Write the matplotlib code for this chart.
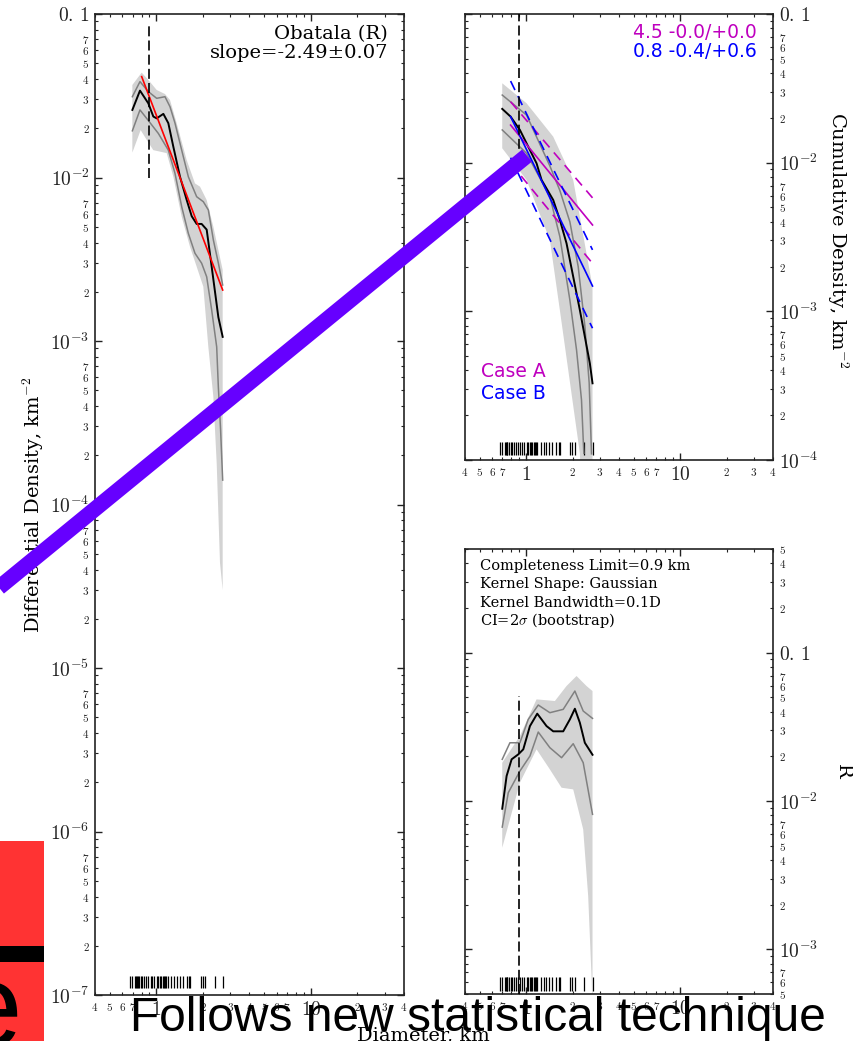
import numpy as np
import matplotlib
matplotlib.use("Agg")
import matplotlib.pyplot as plt
from matplotlib import ticker
from matplotlib.lines import Line2D
from matplotlib.patches import Rectangle

plt.rcParams['mathtext.fontset'] = 'cm'
plt.rcParams['font.family'] = ['DejaVu Serif']

# ---------------- data ----------------
craters = [0.674, 0.697, 0.723, 0.733, 0.744, 0.755, 0.77, 0.79, 0.81, 0.83, 0.856,
           0.884, 0.915, 0.938, 0.962, 1.01, 1.03, 1.05, 1.07, 1.096, 1.116, 1.14,
           1.16, 1.18, 1.25, 1.297, 1.35, 1.41, 1.475, 1.57, 1.62, 1.65, 1.93,
           1.99, 2.06, 2.38, 2.71]
completeness = 0.9

# differential (left panel)
diff_x = [0.698, 0.782, 0.886, 0.954, 1.003, 1.108, 1.193, 1.286, 1.42, 1.568,
          1.69, 1.82, 1.96, 2.113, 2.22, 2.392, 2.514, 2.682]
diff_y = [0.0259, 0.0340, 0.0284, 0.0236, 0.0230, 0.0245, 0.0215, 0.0154, 0.0101,
          0.0073, 0.0058, 0.0052, 0.0052, 0.0048, 0.0034, 0.0020, 0.0014, 0.00106]
diff_hi_x = [0.698, 0.782, 0.886, 1.003, 1.135, 1.223, 1.318, 1.456, 1.608, 1.82,
             2.01, 2.166, 2.334, 2.514, 2.682]
diff_hi_y = [0.0312, 0.0386, 0.0335, 0.0305, 0.0312, 0.0271, 0.0215, 0.0147, 0.0101,
             0.00763, 0.00711, 0.00633, 0.00415, 0.0030, 0.0022]
diff_lo_x = [0.698, 0.782, 0.886, 1.028, 1.193, 1.318, 1.456, 1.608, 1.775, 1.96,
             2.113, 2.276, 2.453, 2.514, 2.60, 2.682]
diff_lo_y = [0.0193, 0.0259, 0.0223, 0.0186, 0.0147, 0.0106, 0.00663, 0.00455,
             0.00344, 0.00299, 0.00247, 0.00155, 0.00092, 0.000525, 0.000286, 0.000141]
diff_band_top_x = [0.698, 0.802, 0.886, 1.003, 1.135, 1.223, 1.351, 1.568, 1.775,
                   1.913, 2.113, 2.334, 2.682]
diff_band_top_y = [0.0368, 0.0438, 0.0395, 0.0343, 0.0324, 0.0298, 0.0215, 0.0128,
                   0.0092, 0.00879, 0.00728, 0.0050, 0.00272]
diff_band_bot_x = [0.698, 0.79, 0.864, 0.954, 1.164, 1.286, 1.456, 1.648, 1.82, 2.01,
                   2.166, 2.334, 2.453, 2.577, 2.682]
diff_band_bot_y = [0.0142, 0.0195, 0.0170, 0.0147, 0.0141, 0.0101, 0.00576, 0.00377,
                   0.00285, 0.00215, 0.00092, 0.000457, 0.000179, 4.4e-5, 3.0e-5]
fit_x = [0.802, 2.682]
fit_y = [0.0414, 0.00205]

# cumulative (top-right panel)
cum_x = [0.698, 0.791, 0.909, 1.166, 1.257, 1.496, 1.652, 1.825, 2.017, 2.228,
         2.4, 2.587, 2.692]
cum_y = [0.0230, 0.0204, 0.0166, 0.0099, 0.00765, 0.00561, 0.00412, 0.00287,
         0.00171, 0.00102, 0.000676, 0.000447, 0.000328]
cum_hi_x = [0.698, 1.004, 1.423, 1.652, 1.919, 2.173, 2.4, 2.561, 2.652]
cum_hi_y = [0.0285, 0.0209, 0.0095, 0.0065, 0.0040, 0.0020, 0.0008, 0.00033, 0.00011]
cum_lo_x = [0.698, 1.004, 1.423, 1.652, 1.919, 2.12, 2.283, 2.364]
cum_lo_y = [0.0166, 0.01156, 0.00591, 0.00318, 0.00119, 0.00055, 0.000254, 0.000111]
cum_band_top_x = [0.698, 1.004, 1.496, 2.017, 2.692, 2.692]
cum_band_top_y = [0.0342, 0.0251, 0.01496, 0.00765, 0.001466, 5e-5]
cum_band_bot_x = [0.698, 1.004, 1.423, 1.652, 2.228, 2.30]
cum_band_bot_y = [0.0125, 0.00765, 0.00302, 0.00102, 0.000111, 5e-5]

fitA_x = [0.791, 2.692]
fitA_y = [0.0179, 0.00381]
fitA_hi = [0.0257, 0.0058]
fitA_lo = [0.00993, 0.0021]
fitB_x = [0.791, 2.692]
fitB_y = [0.0204, 0.00148]
fitB_hi = [0.0354, 0.00259]
fitB_lo = [0.0108, 0.00077]

# R plot (bottom-right panel)
r_x = [0.698, 0.745, 0.803, 0.887, 0.956, 1.056, 1.178, 1.354, 1.496, 1.737, 1.919,
       2.068, 2.228, 2.4, 2.692]
r_y = [0.00887, 0.01474, 0.0191, 0.02063, 0.0223, 0.0320, 0.0388, 0.0320, 0.0295,
       0.0295, 0.0355, 0.0419, 0.0337, 0.0247, 0.0205]
r_hi_x = [0.698, 0.783, 0.909, 1.03, 1.196, 1.423, 1.737, 2.068, 2.342, 2.692]
r_hi_y = [0.0191, 0.0247, 0.0247, 0.0355, 0.04437, 0.03939, 0.04149, 0.05513, 0.04043,
          0.03607]
r_lo_x = [0.698, 0.764, 0.909, 1.056, 1.196, 1.423, 1.695, 2.017, 2.342, 2.692]
r_lo_y = [0.00667, 0.01138, 0.01592, 0.0201, 0.02917, 0.02288, 0.01959, 0.02434,
          0.01813, 0.00813]
r_band_top_x = [0.698, 0.909, 1.166, 1.534, 1.825, 2.12, 2.461, 2.692]
r_band_top_y = [0.0181, 0.02742, 0.04844, 0.04721, 0.05958, 0.06962, 0.0596, 0.0551]
r_band_bot_x = [0.698, 0.909, 1.166, 1.423, 1.695, 2.017, 2.342, 2.523, 2.652, 2.692]
r_band_bot_y = [0.00484, 0.01329, 0.0223, 0.01634, 0.01229, 0.01198, 0.00644, 0.00229,
                0.00066, 0.0004]

# tick labels
x_major = [1, 10]
x_major_labels = ['$1$', '$10$']
x_minor = [0.4, 0.5, 0.6, 0.7, 0.8, 0.9, 2, 3, 4, 5, 6, 7, 8, 9, 20, 30, 40]
x_minor_labels = ['$4$', '$5$', '$6$', '$7$', '', '', '$2$', '$3$', '$4$', '$5$',
                  '$6$', '$7$', '', '', '$2$', '$3$', '$4$']
minor_digit_labels = {2: '$2$', 3: '$3$', 4: '$4$', 5: '$5$', 6: '$6$', 7: '$7$', 8: '', 9: ''}
major_labels = {-7: '$10^{-7}$', -6: '$10^{-6}$', -5: '$10^{-5}$', -4: '$10^{-4}$',
                -3: '$10^{-3}$', -2: '$10^{-2}$', -1: '$0.\\,1$'}

# ---------------- figure ----------------
W, H = 854, 1041
fig = plt.figure(figsize=(W / 100, H / 100), dpi=100)


def rect(x0, y0, x1, y1):
    return [x0 / W, (H - y1) / H, (x1 - x0) / W, (y1 - y0) / H]


ax1 = fig.add_axes(rect(95, 14, 404, 995))
ax2 = fig.add_axes(rect(465, 14, 773, 460))
ax3 = fig.add_axes(rect(465, 549, 773, 994))

FILL = '#d3d3d3'
GRAY = '#808080'


def setup(ax, ylo, yhi, right=False):
    ax.set_xscale('log')
    ax.set_yscale('log')
    ax.set_xlim(0.4, 40)
    ax.set_ylim(ylo, yhi)
    ax.xaxis.set_major_locator(ticker.FixedLocator(x_major))
    ax.xaxis.set_major_formatter(ticker.FixedFormatter(x_major_labels))
    ax.xaxis.set_minor_locator(ticker.FixedLocator(x_minor))
    ax.xaxis.set_minor_formatter(ticker.FixedFormatter(x_minor_labels))
    dec_lo = int(np.floor(np.log10(ylo) + 1e-9))
    dec_hi = int(np.floor(np.log10(yhi) + 1e-9))
    majors, mlabels, minors, nlabels = [], [], [], []
    for d in range(dec_lo, dec_hi + 1):
        base = 10.0 ** d
        if ylo * 0.999 <= base <= yhi * 1.001:
            majors.append(base)
            mlabels.append(major_labels[d])
        for m in range(2, 10):
            v = m * base
            if ylo * 0.999 <= v <= yhi * 1.001:
                minors.append(v)
                nlabels.append(minor_digit_labels[m])
    ax.yaxis.set_major_locator(ticker.FixedLocator(majors))
    ax.yaxis.set_major_formatter(ticker.FixedFormatter(mlabels))
    ax.yaxis.set_minor_locator(ticker.FixedLocator(minors))
    ax.yaxis.set_minor_formatter(ticker.FixedFormatter(nlabels))
    ax.tick_params(which='both', direction='in', top=True, right=True, left=True,
                   bottom=True, colors='#222222')
    ax.tick_params(which='major', length=5, width=1.0, labelsize=14, pad=4)
    ax.tick_params(which='minor', length=2.5, width=0.8, labelsize=8, pad=4)
    if right:
        ax.tick_params(which='both', labelleft=False, labelright=True)
    for s in ax.spines.values():
        s.set_linewidth(1.2)
        s.set_color('#222222')


setup(ax1, 1e-7, 0.1)
setup(ax2, 1e-4, 0.1, right=True)
setup(ax3, 5e-4, 0.5, right=True)

# --- left panel ---
ax1.fill(diff_band_top_x + diff_band_bot_x[::-1], diff_band_top_y + diff_band_bot_y[::-1],
         color=FILL, lw=0, zorder=1)
ax1.plot(diff_hi_x, diff_hi_y, color=GRAY, lw=1.1, zorder=2)
ax1.plot(diff_lo_x, diff_lo_y, color=GRAY, lw=1.1, zorder=2)
ax1.plot(diff_x, diff_y, color='black', lw=1.4, zorder=3)
ax1.plot(fit_x, fit_y, color='red', lw=1.2, zorder=4)
ax1.plot([completeness, completeness], [0.01, 0.088], color='black', lw=1.2,
         ls=(0, (6, 2.5)), zorder=4)
ax1.vlines(craters, 1.1e-7, 1.31e-7, color='black', lw=0.9, zorder=3)
ax1.text(0.948, 0.9742, 'Obatala (R)', transform=ax1.transAxes, ha='right',
         va='baseline', fontsize=14)
ax1.text(0.948, 0.9548, 'slope=-2.49\u00b10.07', transform=ax1.transAxes, ha='right',
         va='baseline', fontsize=14)

# --- top-right panel ---
ax2.fill(cum_band_top_x + cum_band_bot_x[::-1], cum_band_top_y + cum_band_bot_y[::-1],
         color=FILL, lw=0, zorder=1)
ax2.vlines(craters, 1.08e-4, 1.32e-4, color='black', lw=0.9, zorder=1.5)
ax2.plot(cum_hi_x, cum_hi_y, color=GRAY, lw=1.1, zorder=2)
ax2.plot(cum_lo_x, cum_lo_y, color=GRAY, lw=1.1, zorder=2)
ax2.plot(cum_x, cum_y, color='black', lw=1.4, zorder=3)
dash = (0, (6, 4))
ax2.plot(fitA_x, fitA_y, color='m', lw=1.2, zorder=4)
ax2.plot(fitA_x, fitA_hi, color='m', lw=1.2, ls=dash, zorder=4)
ax2.plot(fitA_x, fitA_lo, color='m', lw=1.2, ls=dash, zorder=4)
ax2.plot(fitB_x, fitB_y, color='b', lw=1.2, zorder=4)
ax2.plot(fitB_x, fitB_hi, color='b', lw=1.2, ls=dash, zorder=4)
ax2.plot(fitB_x, fitB_lo, color='b', lw=1.2, ls=dash, zorder=4)
ax2.plot([completeness, completeness], [0.01, 0.1], color='black', lw=1.2,
         ls=(0, (6, 2.5)), zorder=4)
ax2.text(0.948, 0.9455, '4.5 -0.0/+0.0', transform=ax2.transAxes, ha='right',
         va='baseline', fontsize=13.5, color='m', family='DejaVu Sans')
ax2.text(0.948, 0.9043, '0.8 -0.4/+0.6', transform=ax2.transAxes, ha='right',
         va='baseline', fontsize=13.5, color='b', family='DejaVu Sans')
ax2.text(0.052, 0.1868, 'Case A', transform=ax2.transAxes, ha='left',
         va='baseline', fontsize=13.5, color='m', family='DejaVu Sans')
ax2.text(0.052, 0.1368, 'Case B', transform=ax2.transAxes, ha='left',
         va='baseline', fontsize=13.5, color='b', family='DejaVu Sans')

# --- bottom-right panel ---
ax3.fill(r_band_top_x + r_band_bot_x[::-1], r_band_top_y + r_band_bot_y[::-1],
         color=FILL, lw=0, zorder=1)
ax3.vlines(craters, 5.25e-4, 6.5e-4, color='black', lw=0.9, zorder=1.5)
ax3.plot(r_hi_x, r_hi_y, color=GRAY, lw=1.1, zorder=2)
ax3.plot(r_lo_x, r_lo_y, color=GRAY, lw=1.1, zorder=2)
ax3.plot(r_x, r_y, color='black', lw=1.4, zorder=3)
ax3.plot([completeness, completeness], [5e-4, 0.051], color='black', lw=1.2,
         ls=(0, (6, 2.5)), zorder=4)
info = ['Completeness Limit=0.9 km', 'Kernel Shape: Gaussian',
        'Kernel Bandwidth=0.1D', 'CI=2$\\sigma$ (bootstrap)']
for i, line in enumerate(info):
    yb = 570 + i * 18.3
    ax3.text((480.5 - 465) / 308, (994 - yb) / 445, line, transform=ax3.transAxes,
             ha='left', va='baseline', fontsize=10.5)

# --- axis labels ---
fig.text(33 / W, 1 - 505 / H, 'Differential Density, km$^{-2}$', rotation=90,
         ha='center', va='center', fontsize=14)
fig.text(838 / W, 1 - 240 / H, 'Cumulative Density, km$^{-2}$', rotation=270,
         ha='center', va='center', fontsize=14)
fig.text(843 / W, 1 - 771 / H, 'R', rotation=270, ha='center', va='center', fontsize=14)
fig.text(423 / W, 1 - 1040 / H, 'Diameter, km', ha='center', va='baseline', fontsize=14)

# --- video overlay elements ---
fig.add_artist(Line2D([-10 / W, 527 / W], [1 - 594.9 / H, 1 - 155.6 / H],
                      transform=fig.transFigure, color='#6600ff', lw=11.2,
                      solid_capstyle='butt', zorder=20))
fig.add_artist(Rectangle((0, 0), 44 / W, 200 / H, transform=fig.transFigure,
                         facecolor='#ff3333', edgecolor='none', zorder=20))
fig.add_artist(Rectangle((0, 1 - 962 / H), 44 / W, 16 / H, transform=fig.transFigure,
                         facecolor='black', edgecolor='none', zorder=21))
fig.text(22 / W, 1 - 1046 / H, 'e', ha='right', va='baseline', fontsize=86,
         family='Liberation Sans', color='black', zorder=22)
fig.text(130 / W, 1 - 1031 / H, 'Follows new statistical technique', ha='left',
         va='baseline', fontsize=34.5, family='Liberation Sans', color='black', zorder=22)

fig.savefig('out.png', dpi=100)
